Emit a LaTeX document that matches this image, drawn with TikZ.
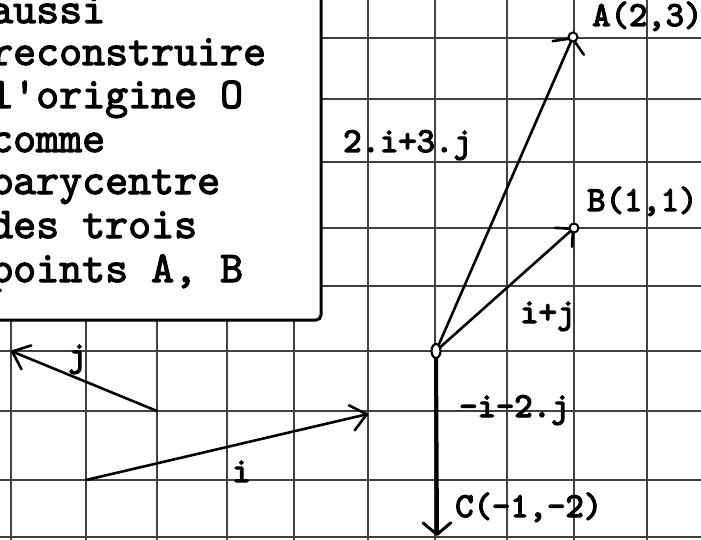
\documentclass[tikz,border=0pt]{standalone}
\usepackage{fontspec}
\newfontfamily\courb[FakeBold=2.6]{lmmono10-regular.otf}
\newfontfamily\courl[FakeBold=3.6]{lmmono10-regular.otf}
\usetikzlibrary{arrows.meta,shapes.geometric}
\begin{document}
\begin{tikzpicture}[x=1pt,y=-1pt,
  gridline/.style={line width=1.2pt, black!75},
  vec/.style={line width=2.6pt, line cap=round},
  lbl/.style={font=\courl\fontsize{35}{36}\selectfont, anchor=base west, inner sep=0pt},
  boxtxt/.style={font=\courb\fontsize{43.8}{44}\selectfont, anchor=base west, inner sep=0pt},
  ptmark/.style={circle, draw, fill=white, line width=2pt, minimum size=9pt, inner sep=0pt},
  omark/.style={ellipse, draw, fill=white, line width=2.2pt, minimum width=9pt, minimum height=14pt, inner sep=0pt},
  boxstyle/.style={draw, fill=white, line width=3pt, rounded corners=5pt}]
\useasboundingbox (0,0) rectangle (701,540);
\clip (0,0) rectangle (701,540);
\fill[white] (0,0) rectangle (701,540);
% grid
\foreach \x in {11,86,157,227,294,368,435,507,574,647}
  \draw[gridline] (\x,-5) -- (\x,545);
\foreach \y in {38,99,162,228,286,351,411,480,537}
  \draw[gridline] (-5,\y) -- (706,\y);
% text box
\draw[boxstyle] (-30,-30) rectangle (321,320);
\node[boxtxt] (t1) at (-10,23) {aussi};
\node[boxtxt] (t2) at (-10,65) {reconstruire};
\node[boxtxt] (t3) at (-10,108) {l'origine O};
\node[boxtxt] (t4) at (-10,152) {comme};
\node[boxtxt] (t5) at (-10,194) {barycentre};
\node[boxtxt] (t6) at (-10,238) {des trois};
\node[boxtxt] (t7) at (-10,282) {points A, B};
% points
\coordinate (O) at (436,351);
\coordinate (A) at (573,37);
\coordinate (B) at (574,228);
\coordinate (C) at (437,536);
\coordinate (i0) at (86,480);
\coordinate (i1) at (368,414);
\coordinate (j0) at (157,411);
\coordinate (j1) at (11,351);
% vectors
\draw[vec, -{Straight Barb[angle=116:20pt, round]}] (O) -- (A);
\draw[vec, -{Straight Barb[angle=90:18pt, round]}] (O) -- (B);
\draw[vec, line width=4pt, -{Straight Barb[angle=100:18pt, round, line width=3pt]}] (O) -- (C);
\draw[vec, -{Straight Barb[angle=80:20pt, round]}] (i0) -- (i1);
\draw[vec, -{Straight Barb[angle=80:20pt, round]}] (j0) -- (j1);
% point marks
\node[omark] (Om) at (O) {};
\node[ptmark] (Am) at (A) {};
\node[ptmark] (Bm) at (B) {};
% labels
\node[lbl] (lA) at (592,26) {A(2,3)};
\node[lbl] (lB) at (587,211) {B(1,1)};
\node[lbl] (lOA) at (343,152) {2.i+3.j};
\node[lbl] (lOB) at (520,323) {i+j};
\node[lbl] (lOC) at (459,417) {-i-2.j};
\node[lbl] (lC) at (455,517) {C(-1,-2)};
\node[lbl] (li) at (232,482) {i};
\node[lbl] (lj) at (68,366) {j};
\end{tikzpicture}
\end{document}
